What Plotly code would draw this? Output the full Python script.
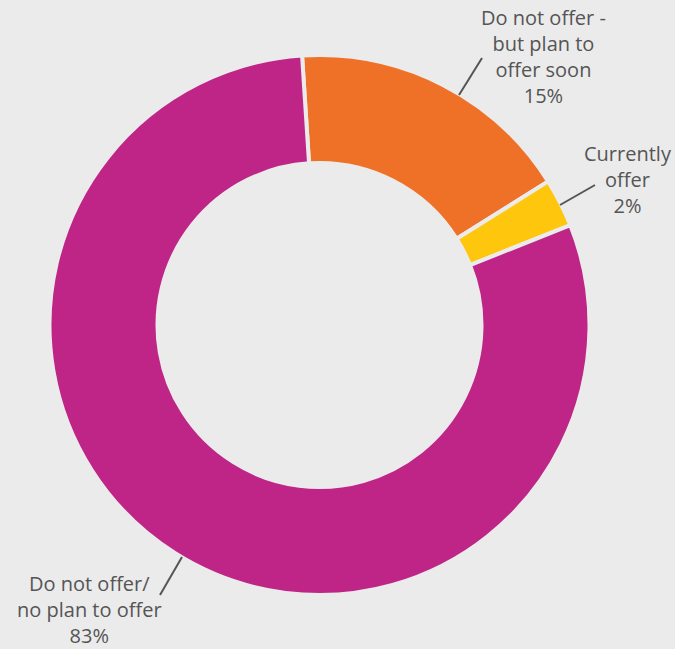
import plotly.graph_objects as go

# Data
categories = ["Do not offer -<br>but plan to<br>offer soon", "Currently<br>offer", "Do not offer/<br>no plan to offer"]
values = [17.1, 2.9, 80.0]          # slice sizes as drawn
pct_labels = ["15%", "2%", "83%"]   # printed percentages
colors = ["#EE7127", "#FFC60E", "#BE2587"]

BG = "#EBEBEB"
W, H = 675, 649

def px(x):
    return x / W

def py(y):
    return 1 - y / H

fig = go.Figure(go.Pie(
    labels=[c.replace("<br>", " ") for c in categories],
    values=values,
    sort=False,
    direction="clockwise",
    rotation=-3.7,
    hole=0.6,
    marker=dict(colors=colors, line=dict(color=BG, width=4)),
    textinfo="none",
    hoverinfo="label+value",
    domain=dict(x=[px(49.5), px(589.5)], y=[py(595), py(55)]),
    showlegend=False,
))

# label positions (pixels) and leader lines
label_pos = [(543, 57), (628, 180), (89, 609)]
leaders = [((459, 95), (482, 58)), ((560, 205), (595, 185)), ((182, 557), (160, 595))]

for cat, pct, (lx, ly) in zip(categories, pct_labels, label_pos):
    fig.add_annotation(
        x=px(lx), y=py(ly), xref="paper", yref="paper",
        text=f"{cat}<br>{pct}", showarrow=False,
        xanchor="center", yanchor="middle", align="center",
        font=dict(family="Open Sans", size=20, color="#555555"),
    )

for (x0, y0), (x1, y1) in leaders:
    fig.add_shape(type="line", xref="paper", yref="paper",
                  x0=px(x0), y0=py(y0), x1=px(x1), y1=py(y1),
                  line=dict(color="#555555", width=2))

fig.update_layout(
    width=W, height=H,
    margin=dict(l=0, r=0, t=0, b=0),
    paper_bgcolor=BG, plot_bgcolor=BG,
)

fig.write_html("out.html")
